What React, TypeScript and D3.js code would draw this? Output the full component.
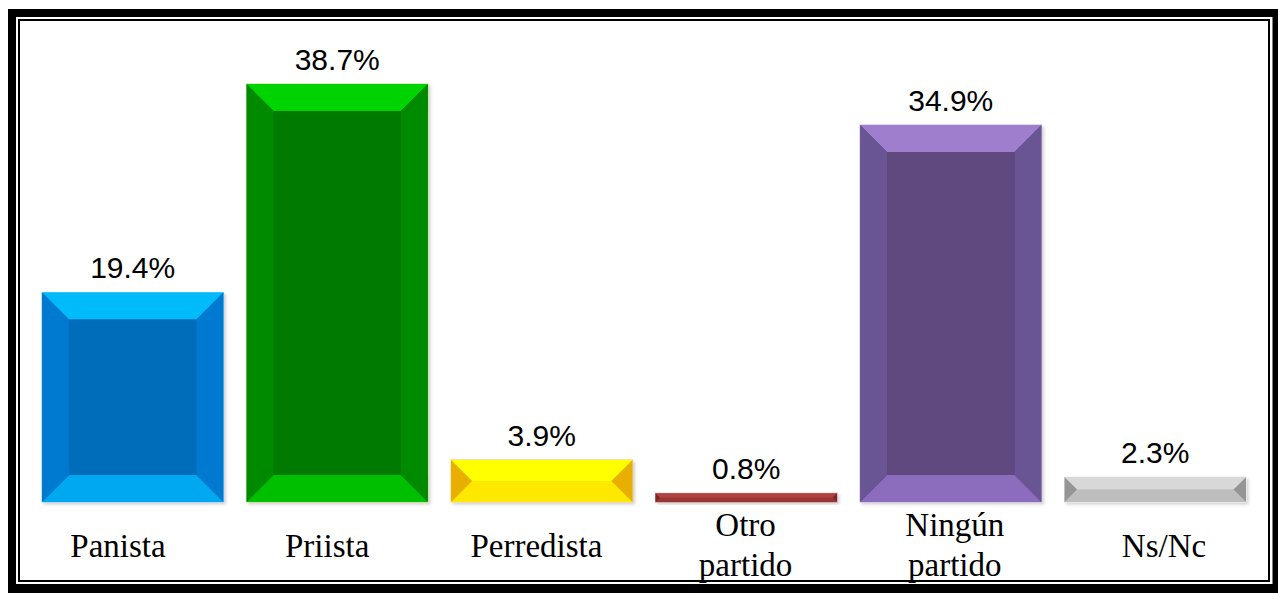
import * as d3 from 'd3';

const categories = ['Panista', 'Priista', 'Perredista', 'Otro partido', 'Ningún partido', 'Ns/Nc'];
const values = [19.4, 38.7, 3.9, 0.8, 34.9, 2.3];
const valueLabels = ['19.4%', '38.7%', '3.9%', '0.8%', '34.9%', '2.3%'];

// bevel face colours: top, bottom, sides, centre
const faces = [
    { top: '#00BAFA', bottom: '#00A8F2', side: '#0079D1', center: '#006DBA', edge: '#7fd0f5' },
    { top: '#00D400', bottom: '#00BE00', side: '#008A00', center: '#007A00', edge: '#b8d870' },
    { top: '#FFFF00', bottom: '#FFE800', side: '#E8AE00', center: '#FFF000', edge: '#f5d080' },
    { top: '#B04242', bottom: '#9A3434', side: '#7A2828', center: '#A03838', edge: '#c08080' },
    { top: '#A07ECE', bottom: '#8C6CBC', side: '#6A5494', center: '#5E4A7E', edge: '#c0b0dc' },
    { top: '#D8D8D8', bottom: '#BEBEBE', side: '#959595', center: '#C8C8C8', edge: '#e4e4e4' },
];

const W = 1278;
const H = 593;
const baseline = 502;

const App = () => {
    const x = d3.scaleBand<string>()
        .domain(categories)
        .range([42, 1246])
        .paddingInner(0.113)
        .paddingOuter(0);

    const y = d3.scaleLinear()
        .domain([0, 38.7])
        .range([baseline, 84]);

    // category labels sit on their own (slightly wider) grid
    const lx = d3.scalePoint<string>()
        .domain(categories)
        .range([118, 1164]);

    const pts = (arr: number[][]) => arr.map(p => p.join(',')).join(' ');

    return (
        <svg width={W} height={H} style={{ position: 'absolute', left: 0, top: 0, background: '#fff' }}>
            <defs>
                <filter id="sh" x="-5%" y="-5%" width="115%" height="130%">
                    <feDropShadow dx="2" dy="2" stdDeviation="1.5" floodColor="#000" floodOpacity="0.18" />
                </filter>
            </defs>

            {/* frame */}
            <rect x={8} y={9} width={W - 8} height={H - 9} fill="#000" />
            <rect x={16} y={17} width={1272.5 - 16} height={584 - 17} fill="#fff" />
            <rect x={19} y={20} width={1269 - 19} height={581 - 20} fill="none" stroke="#000" strokeWidth={2} />

            {categories.map((c, i) => {
                const x0 = x(c)!;
                const x1 = x0 + x.bandwidth();
                const y0 = y(values[i]);
                const y1 = baseline;
                const h = y1 - y0;
                const b = Math.min(27, h / 2);
                const f = faces[i];
                return (
                    <g key={c} filter="url(#sh)">
                        <rect x={x0} y={y0} width={x1 - x0} height={h} fill={f.center} stroke={f.edge} strokeWidth={1} />
                        <polygon points={pts([[x0, y0], [x1, y0], [x1 - b, y0 + b], [x0 + b, y0 + b]])} fill={f.top} />
                        <polygon points={pts([[x0, y1], [x1, y1], [x1 - b, y1 - b], [x0 + b, y1 - b]])} fill={f.bottom} />
                        <polygon points={pts([[x0, y0], [x0 + b, y0 + b], [x0 + b, y1 - b], [x0, y1]])} fill={f.side} />
                        <polygon points={pts([[x1, y0], [x1 - b, y0 + b], [x1 - b, y1 - b], [x1, y1]])} fill={f.side} />
                        {h > 2 * b && (
                            <rect x={x0 + b} y={y0 + b} width={x1 - x0 - 2 * b} height={h - 2 * b} fill={f.center} />
                        )}
                    </g>
                );
            })}

            {categories.map((c, i) => (
                <text
                    key={'v' + c}
                    x={x(c)! + x.bandwidth() / 2}
                    y={y(values[i]) - 14}
                    textAnchor="middle"
                    fontFamily="Arial, 'Liberation Sans', sans-serif"
                    fontSize={30}
                    fill="#000"
                >
                    {valueLabels[i]}
                </text>
            ))}

            {categories.map(c => {
                const words = c.split(' ');
                const cx = lx(c)!;
                return (
                    <text
                        key={'c' + c}
                        x={cx}
                        textAnchor="middle"
                        fontFamily="'Times New Roman', 'Liberation Serif', serif"
                        fontSize={33}
                        fill="#000"
                    >
                        {words.length === 1
                            ? <tspan x={cx} y={557}>{c}</tspan>
                            : words.map((w, j) => (
                                <tspan key={j} x={cx} y={536 + j * 40}>{w}</tspan>
                            ))}
                    </text>
                );
            })}
        </svg>
    );
};

export default App;
